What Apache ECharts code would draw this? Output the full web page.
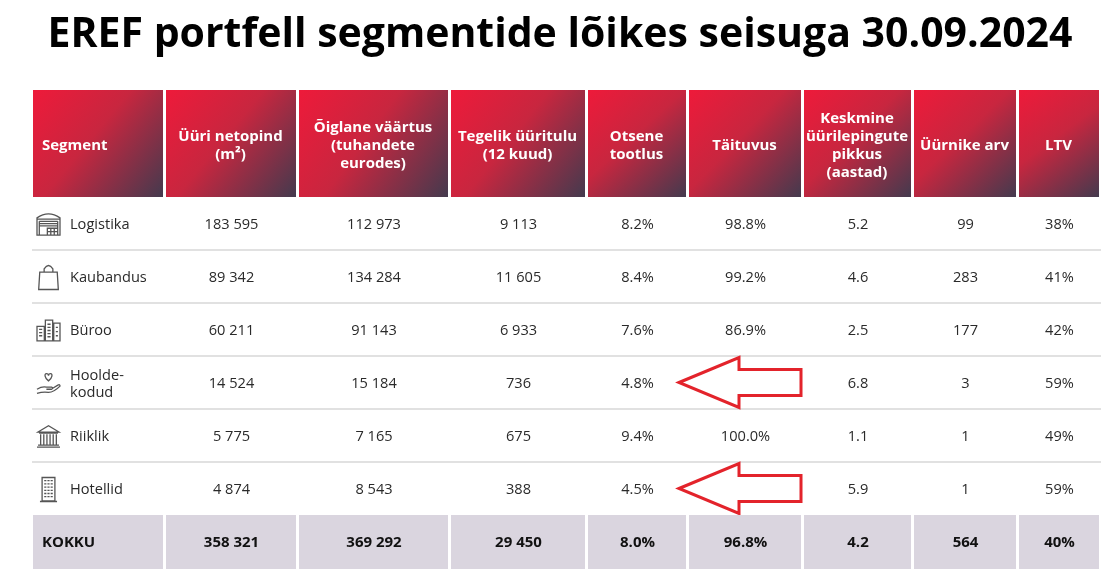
<!DOCTYPE html>
<html>
<head>
<meta charset="utf-8">
<script src="https://cdn.jsdelivr.net/npm/echarts@6/dist/echarts.min.js"></script>
<style>
  html, body { margin: 0; padding: 0; background: #fff; }
  #main { width: 1120px; height: 588px; }
</style>
</head>
<body>
<div id="main"></div>
<script>
// andmed
var titleText = 'EREF portfell segmentide lõikes seisuga 30.09.2024';
var headers = ['Segment', 'Üüri netopind\n(m²)', 'Õiglane väärtus\n(tuhandete\neurodes)', 'Tegelik üüritulu\n(12 kuud)',
  'Otsene\ntootlus', 'Täituvus', 'Keskmine\nüürilepingute\npikkus\n(aastad)', 'Üürnike arv', 'LTV'];
var segments = ['Logistika', 'Kaubandus', 'Büroo', 'Hoolde-\nkodud', 'Riiklik', 'Hotellid'];
var netArea = [183595, 89342, 60211, 14524, 5775, 4874];
var fairValue = [112973, 134284, 91143, 15184, 7165, 8543];
var rentIncome = [9113, 11605, 6933, 736, 675, 388];
var directYield = [8.2, 8.4, 7.6, 4.8, 9.4, 4.5];
var occupancy = [98.8, 99.2, 86.9, null, 100.0, null];
var wault = [5.2, 4.6, 2.5, 6.8, 1.1, 5.9];
var tenants = [99, 283, 177, 3, 1, 1];
var ltv = [38, 41, 42, 59, 49, 59];
var totalLabel = 'KOKKU';
var totals = [358321, 369292, 29450, 8.0, 96.8, 4.2, 564, 40];

// paigutus (tabeli veergude ja ridade piirid)
var colEdges = [32, 165, 298, 450, 587, 688, 803, 913, 1018, 1101];
var rowEdges = [90, 197, 250, 303, 356, 409, 462, 515, 569];

var iconPaths = [
  'M2 23 V8 Q12 1 22 8 V23 Z M2 9 H22 M4 11 H20 M4 13 H20 M4 15 H20 M4 23 V11 M20 23 V11 M11 23 V17 H20 M11 20 H20 M14 17 V23 M17 17 V23',
  'M4 8 H20 L21 24 H3 Z M8 8 V5 Q12 -1 16 5 V8',
  'M1 9 H8 V23 H1 Z M9 3 H16 V23 H9 Z M17 6 H23 V23 H17 Z M3 12 H6 M3 15 H6 M3 18 H6 M11 7 H14 M11 10 H14 M11 13 H14 M11 16 H14 M11 19 H14 M19 10 H21 M19 14 H21 M19 18 H21',
  'M12 10 C8 7 8 3 10 3 Q12 3 12 5 Q12 3 14 3 C16 3 16 7 12 10 Z M1 18 Q6 15 10 16 L15 16 Q17 17 15 18 L10 18 M1 22 Q7 20 12 21 Q17 21 23 15 Q23 13 21 14 L16 17',
  'M2 8 L12 2 L22 8 Z M3 9 H21 M4.5 10 V20 M7.5 10 V20 M10.5 10 V20 M13.5 10 V20 M16.5 10 V20 M19.5 10 V20 M2 20.5 H22 M1 22.5 H23',
  'M6 1 H18 V23 H6 Z M8 4 H10 M11 4 H13 M14 4 H16 M8 7 H10 M11 7 H13 M14 7 H16 M8 10 H10 M11 10 H13 M14 10 H16 M8 13 H10 M11 13 H13 M14 13 H16 M8 16 H10 M11 16 H13 M14 16 H16 M8 19 H10 M11 19 H13 M14 19 H16 M4 23.5 H20'
];

function fmtInt(n) { return String(n).replace(/\B(?=(\d{3})+(?!\d))/g, ' '); }
function fmtPct1(v) { return v.toFixed(1) + '%'; }
function fmtDec(v) { return v.toFixed(1); }
function fmtPct0(v) { return v + '%'; }
var formatters = [fmtInt, fmtInt, fmtInt, fmtPct1, fmtPct1, fmtDec, fmtInt, fmtPct0];
var columns = [netArea, fairValue, rentIncome, directYield, occupancy, wault, tenants, ltv];

// rakud: [veerg, rida, tüüp] ; tüüp 0 = päis, 1 = sisu, 2 = kokku
var cells = [];
var cellText = [];
headers.forEach(function (h, c) { cells.push([c, 0, 0]); cellText.push(h); });
segments.forEach(function (s, r) {
  cells.push([0, r + 1, 1]); cellText.push(s);
  columns.forEach(function (col, c) {
    var v = col[r];
    cells.push([c + 1, r + 1, 1]);
    cellText.push(v == null ? null : formatters[c](v));
  });
});
cells.push([0, 7, 2]); cellText.push(totalLabel);
totals.forEach(function (v, c) { cells.push([c + 1, 7, 2]); cellText.push(formatters[c](v)); });

var FONT = '"Open Sans", sans-serif';

function renderCell(params, api) {
  var c = api.value(0), r = api.value(1), kind = api.value(2);
  var txt = cellText[params.dataIndex];
  var p0 = api.coord([colEdges[c], rowEdges[r]]);
  var p1 = api.coord([colEdges[c + 1], rowEdges[r + 1]]);
  var x0 = p0[0], y0 = p0[1], w = p1[0] - p0[0], h = p1[1] - p0[1];
  var cx = x0 + w / 2, cy = y0 + h / 2;
  var children = [];
  if (kind === 0) {
    children.push({
      type: 'rect', shape: { x: x0 + 1, y: y0, width: w - 3, height: h },
      style: { fill: new echarts.graphic.LinearGradient(0, 0, 1, 1, [
        { offset: 0, color: '#ee1a3a' }, { offset: 0.45, color: '#c8263f' }, { offset: 1, color: '#443a4e' }]) }
    });
    children.push({
      type: 'text',
      style: { text: txt, x: c === 0 ? x0 + 10 : cx - 1, y: cy + 2, align: c === 0 ? 'left' : 'center', verticalAlign: 'middle',
        fill: '#fff', fontFamily: FONT, fontWeight: 700, fontSize: 15, lineHeight: 18 }
    });
  } else if (kind === 1) {
    if (r < 6) {
      children.push({ type: 'line', shape: { x1: x0, y1: y0 + h, x2: x0 + w, y2: y0 + h },
        style: { stroke: '#e1e1e1', lineWidth: 2 } });
    }
    if (c === 0) {
      children.push({ type: 'path', shape: { pathData: iconPaths[r - 1], x: x0 + 5, y: cy - 11, width: 23, height: 24 },
        style: { fill: 'none', stroke: '#555', lineWidth: 1.3 } });
      children.push({ type: 'text', style: { text: txt, x: x0 + 38, y: cy + 1.5, align: 'left', verticalAlign: 'middle',
        fill: '#2a2a2a', fontFamily: FONT, fontSize: 14.6, lineHeight: 17 } });
    } else if (txt != null) {
      children.push({ type: 'text', style: { text: txt, x: cx, y: cy + 1.5, align: 'center', verticalAlign: 'middle',
        fill: '#2a2a2a', fontFamily: FONT, fontSize: 14.6 } });
    } else {
      // punane nool tühja lahtri kohal
      var tip = x0 - 9, back = x0 + 51, end = x0 + w - 2;
      children.push({ type: 'polygon', shape: { points: [[tip, cy], [back, cy - 25], [back, cy - 13], [end, cy - 13],
        [end, cy + 13], [back, cy + 13], [back, cy + 25]] },
        style: { fill: 'none', stroke: '#e3232b', lineWidth: 3, lineJoin: 'miter' } });
    }
  } else {
    children.push({ type: 'rect', shape: { x: x0 + 1, y: y0, width: w - 3, height: h }, style: { fill: '#dad5df' } });
    children.push({ type: 'text', style: { text: txt, x: c === 0 ? x0 + 10 : cx, y: cy + 1, align: c === 0 ? 'left' : 'center',
      verticalAlign: 'middle', fill: '#111', fontFamily: FONT, fontWeight: 700, fontSize: 15 } });
  }
  return { type: 'group', children: children };
}

var chart = echarts.init(document.getElementById('main'));
chart.setOption({
  backgroundColor: '#fff',
  animation: false,
  title: {
    text: titleText, left: 'center', top: 10,
    textStyle: { fontFamily: FONT, fontWeight: 700, fontSize: 41, color: '#000' }
  },
  grid: { left: 0, right: 0, top: 0, bottom: 0 },
  xAxis: { type: 'value', min: 0, max: 1120, show: false },
  yAxis: { type: 'value', min: 0, max: 588, inverse: true, show: false },
  series: [{
    type: 'custom',
    renderItem: renderCell,
    data: cells,
    clip: false
  }]
});
</script>
</body>
</html>
